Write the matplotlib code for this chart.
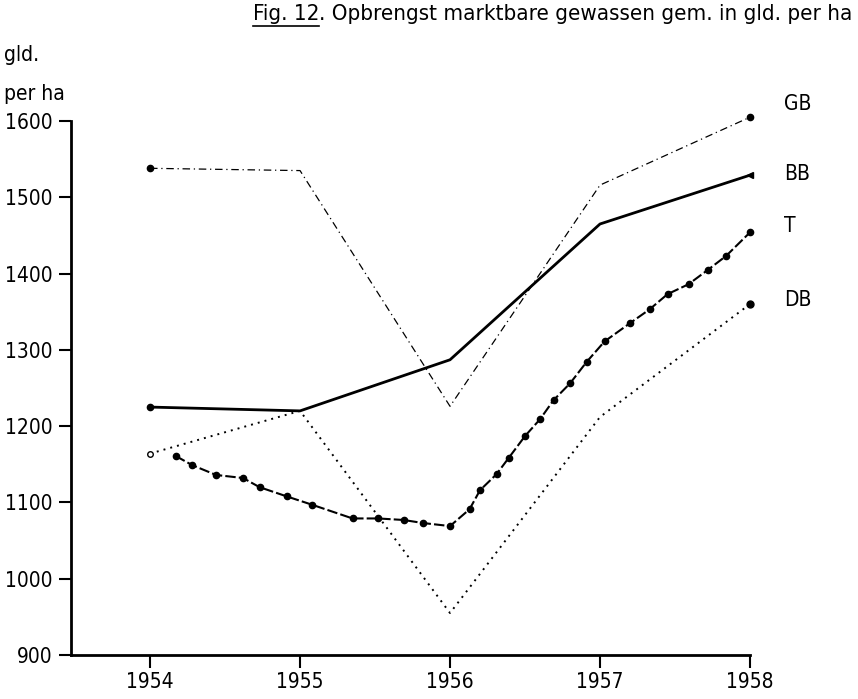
import matplotlib.pyplot as plt

# opbrengst marktbare gewassen, gld. per ha
years = [1954, 1955, 1956, 1957, 1958]
gb = [1538, 1535, 1226, 1516, 1605]
bb = [1225, 1220, 1287, 1465, 1529]
db = [1164, 1220, 955, 1212, 1360]

# T series has intermediate points
t_x = [1954.17, 1954.28, 1954.44, 1954.62, 1954.73, 1954.91, 1955.08, 1955.35,
       1955.52, 1955.69, 1955.82, 1956.0, 1956.13, 1956.20, 1956.31, 1956.39,
       1956.50, 1956.60, 1956.69, 1956.80, 1956.91, 1957.03, 1957.20, 1957.33,
       1957.45, 1957.59, 1957.72, 1957.84, 1958.0]
t_y = [1161, 1149, 1136, 1132, 1120, 1108, 1097, 1079, 1079, 1077, 1073, 1069,
       1091, 1116, 1137, 1158, 1187, 1209, 1234, 1256, 1284, 1311, 1335, 1353,
       1373, 1386, 1405, 1423, 1454]

y_ticks = [900, 1000, 1100, 1200, 1300, 1400, 1500, 1600]
labels = ['GB', 'BB', 'T', 'DB']

plt.rcParams['font.family'] = ['DejaVu Sans']
plt.rcParams['font.stretch'] = 'condensed'

fig = plt.figure(figsize=(8.58, 6.99), dpi=100)
W, H = 858, 699
ax = fig.add_axes([71 / W, 1 - 655 / H, (750 - 71) / W, (655 - 121) / H])

# GB: dash-dot
ax.plot(years, gb, color='black', lw=0.9, ls=(0, (6, 3, 1, 3)), clip_on=False)
ax.plot([years[0], years[-1]], [gb[0], gb[-1]], 'o', color='black', ms=4.5, clip_on=False)

# BB: solid
ax.plot(years, bb, color='black', lw=2.0, clip_on=False)
ax.plot(years[0], bb[0], 'o', color='black', ms=4.5, clip_on=False)
ax.plot(years[-1], bb[-1], '<', color='black', ms=5, clip_on=False)

# T: dashed with dots
ax.plot(t_x, t_y, color='black', lw=1.5, ls=(0, (5, 1.5)), marker='o', ms=4.5, clip_on=False)

# DB: dotted
ax.plot(years, db, color='black', lw=1.4, ls=(0, (1, 2.6)), clip_on=False)
ax.plot(years[0], db[0], 'o', mfc='white', mec='black', ms=4, mew=1, clip_on=False)
ax.plot(years[-1], db[-1], 'o', color='black', ms=5, clip_on=False)

ax.set_xlim(1953.473, 1958)
ax.set_ylim(900, 1600)
ax.set_xticks(years)
ax.set_yticks(y_ticks)
ax.tick_params(axis='both', direction='out', length=9, width=1.5, labelsize=15, pad=4)
ax.tick_params(axis='x', pad=3)
for s in ['top', 'right']:
    ax.spines[s].set_visible(False)
for s in ['left', 'bottom']:
    ax.spines[s].set_linewidth(2)

# series labels at right
for lab, yv in zip(labels, [1622, 1530, 1462, 1365]):
    ax.text(1958.23, yv, lab, fontsize=15, va='center', ha='left', clip_on=False)

# unit label
fig.text(4 / W, 1 - 55 / H, 'gld.', fontsize=15, va='center', ha='left')
fig.text(4 / W, 1 - 94 / H, 'per ha', fontsize=15, va='center', ha='left')

# title with underlined "Fig. 12"
t1 = fig.text(253 / W, 1 - 14 / H, 'Fig. 12', fontsize=16, va='center', ha='left')
fig.canvas.draw()
bb1 = t1.get_window_extent().transformed(fig.transFigure.inverted())
fig.text(bb1.x1, 1 - 14 / H, '. Opbrengst marktbare gewassen gem. in gld. per ha',
         fontsize=16, va='center', ha='left')
fig.add_artist(plt.Line2D([bb1.x0, bb1.x1], [bb1.y0 - 0.003, bb1.y0 - 0.003],
                          color='black', lw=1.2, transform=fig.transFigure))

fig.savefig('out.png', dpi=100)
